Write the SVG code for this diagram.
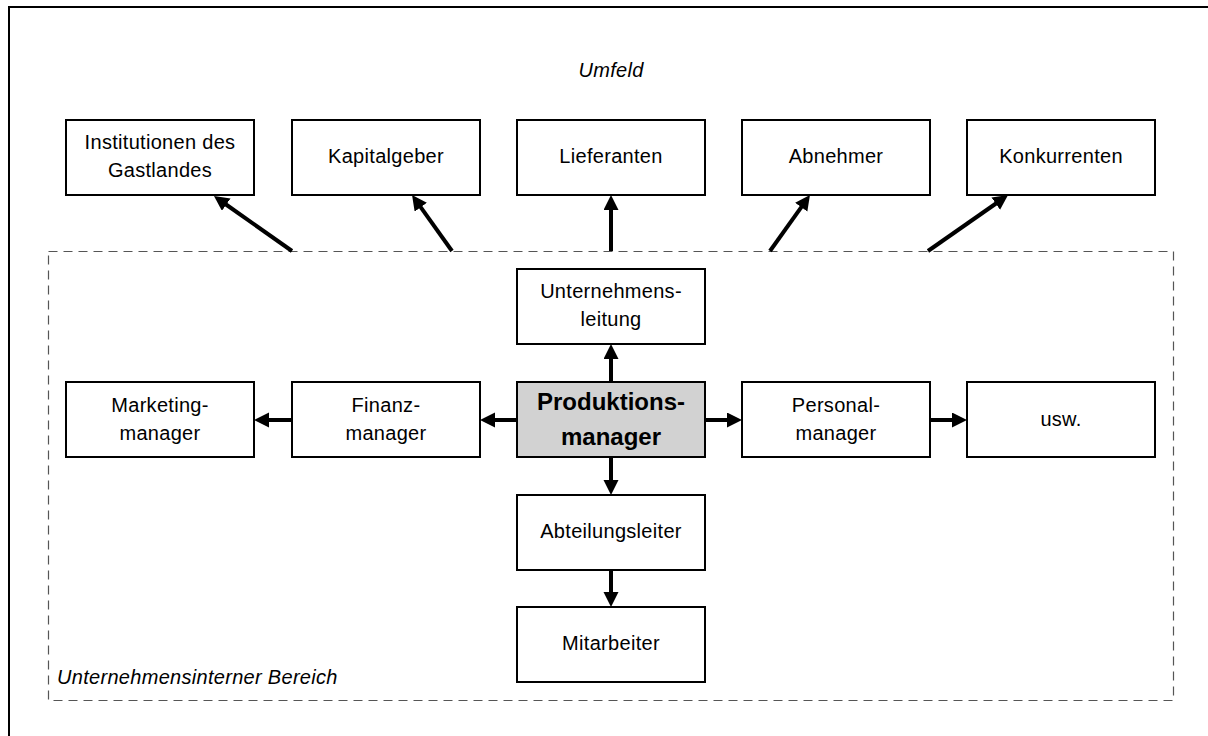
<svg xmlns="http://www.w3.org/2000/svg" width="1208" height="736" viewBox="0 0 1208 736">
<style>
.box{fill:#fff;stroke:#000;stroke-width:2}
.main{fill:#d2d2d2;stroke:#000;stroke-width:2}
.t{font-family:"Liberation Sans",Arial,sans-serif;font-size:20px;letter-spacing:0.3px;fill:#000;text-anchor:middle}
.b{font-family:"Liberation Sans",Arial,sans-serif;font-size:24px;font-weight:bold;fill:#000;text-anchor:middle}
.i{font-family:"Liberation Sans",Arial,sans-serif;font-size:20px;font-style:italic;letter-spacing:0.3px;fill:#000}
.c{stroke:#000;stroke-width:4;fill:none;marker-end:url(#ah)}
</style>
<defs>
<marker id="ah" markerUnits="userSpaceOnUse" markerWidth="16" markerHeight="16" refX="2" refY="7.5" orient="auto" viewBox="0 0 16 16">
<path d="M0,0 L15,7.5 L0,15 z" fill="#000"/>
</marker>
</defs>
<rect width="1208" height="736" fill="#fff"/>
<path d="M9,740 V7 H1212" fill="none" stroke="#000" stroke-width="2"/>
<rect id="bereich" x="48.5" y="251.5" width="1125" height="449" fill="none" stroke="#555" stroke-width="1.2" stroke-dasharray="9,6"/>
<text class="i" x="611" y="77" text-anchor="middle">Umfeld</text>
<text class="i" x="57" y="684">Unternehmensinterner Bereich</text>

<g id="connectors">
<line class="c" x1="292" y1="251" x2="224.6" y2="203.5"/>
<line class="c" x1="452" y1="251" x2="419.6" y2="205.6"/>
<line class="c" x1="611" y1="251" x2="611" y2="208"/>
<line class="c" x1="770" y1="251" x2="802.4" y2="205.6"/>
<line class="c" x1="928" y1="251" x2="997.4" y2="202.5"/>
<line class="c" x1="611" y1="382" x2="611" y2="357"/>
<line class="c" x1="517" y1="420" x2="493" y2="420"/>
<line class="c" x1="292" y1="420" x2="267" y2="420"/>
<line class="c" x1="705" y1="420" x2="729" y2="420"/>
<line class="c" x1="930" y1="420" x2="954" y2="420"/>
<line class="c" x1="611" y1="457" x2="611" y2="482"/>
<line class="c" x1="611" y1="570" x2="611" y2="594"/>
</g>

<g id="institutionen"><rect class="box" x="66" y="120" width="188" height="75"/><text class="t" x="160" y="149">Institutionen des</text><text class="t" x="160" y="177">Gastlandes</text></g>
<g id="kapitalgeber"><rect class="box" x="292" y="120" width="188" height="75"/><text class="t" x="386" y="163">Kapitalgeber</text></g>
<g id="lieferanten"><rect class="box" x="517" y="120" width="188" height="75"/><text class="t" x="611" y="163">Lieferanten</text></g>
<g id="abnehmer"><rect class="box" x="742" y="120" width="188" height="75"/><text class="t" x="836" y="163">Abnehmer</text></g>
<g id="konkurrenten"><rect class="box" x="967" y="120" width="188" height="75"/><text class="t" x="1061" y="163">Konkurrenten</text></g>

<g id="unternehmensleitung"><rect class="box" x="517" y="269" width="188" height="75"/><text class="t" x="611" y="298">Unternehmens-</text><text class="t" x="611" y="326">leitung</text></g>
<g id="marketing"><rect class="box" x="66" y="382" width="188" height="75"/><text class="t" x="160" y="412">Marketing-</text><text class="t" x="160" y="440">manager</text></g>
<g id="finanz"><rect class="box" x="292" y="382" width="188" height="75"/><text class="t" x="386" y="412">Finanz-</text><text class="t" x="386" y="440">manager</text></g>
<g id="produktion"><rect class="main" x="517" y="382" width="188" height="75"/><text class="b" x="611" y="410">Produktions-</text><text class="b" x="611" y="445">manager</text></g>
<g id="personal"><rect class="box" x="742" y="382" width="188" height="75"/><text class="t" x="836" y="412">Personal-</text><text class="t" x="836" y="440">manager</text></g>
<g id="usw"><rect class="box" x="967" y="382" width="188" height="75"/><text class="t" x="1061" y="426">usw.</text></g>
<g id="abteilungsleiter"><rect class="box" x="517" y="495" width="188" height="75"/><text class="t" x="611" y="538">Abteilungsleiter</text></g>
<g id="mitarbeiter"><rect class="box" x="517" y="607" width="188" height="75"/><text class="t" x="611" y="650">Mitarbeiter</text></g>
</svg>
